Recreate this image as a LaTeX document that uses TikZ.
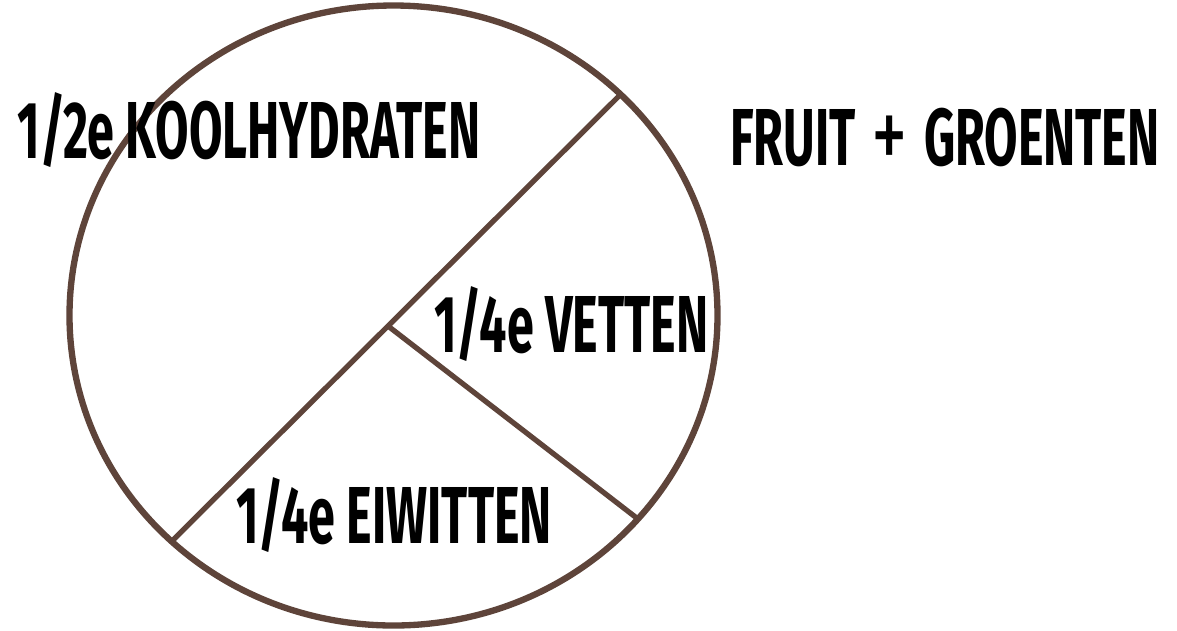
\documentclass[tikz,border=0pt]{standalone}
\usepackage{fontspec}
\setmainfont{Fira Sans}[FakeStretch=0.6]
\usepackage{xcolor}
\usepackage{tikz}
\definecolor{plateline}{RGB}{94,68,58}

\begin{document}
\begin{tikzpicture}[
  x=0.02cm,
  y=-0.02cm,
  rim/.style={draw=plateline, line width=3.6pt},
  cut/.style={draw=plateline, line width=3pt},
  label/.style={anchor=base, inner sep=0pt, font=\fontsize{46}{46}\selectfont\bfseries}
]
  \useasboundingbox (0,0) rectangle (1177,630);
  \draw[rim] (393.5,315.5) ellipse [x radius=324, y radius=310];

  \coordinate (hub) at (388,326);
  \coordinate (rimtop) at (620,95);
  \coordinate (rimleft) at (172,541);
  \coordinate (rimright) at (638,519);
  \draw[cut] (rimleft) -- (hub) -- (rimtop);
  \draw[cut] (hub) -- (rimright);

  \node[label] (carbs) at (249,158) {1/2e KOOLHYDRATEN};
  \node[label] (fruit) at (945,165) {FRUIT\hspace{0.2em}\raisebox{-3pt}{\scalebox{1.5}[1.3]{\mdseries +}}\hspace{0.2em}GROENTEN};
  \node[label] (fats) at (571.5,352) {1/4e VETTEN};
  \node[label] (protein) at (394,543) {1/4e EIWITTEN};
\end{tikzpicture}
\end{document}
